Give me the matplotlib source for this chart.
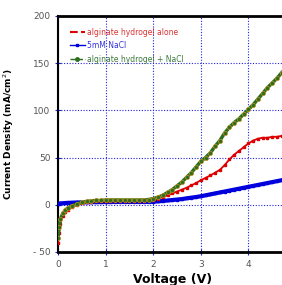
import matplotlib.pyplot as plt
from matplotlib.lines import Line2D

# voltage (V)
volts = [0, 0.02, 0.05, 0.1, 0.15, 0.2, 0.3, 0.4, 0.5, 0.6, 0.7, 0.8, 0.9, 1.0,
         1.1, 1.2, 1.3, 1.4, 1.5, 1.6, 1.7, 1.8, 1.9, 2.0, 2.1, 2.2, 2.3, 2.4,
         2.5, 2.6, 2.7, 2.8, 2.9, 3.0, 3.1, 3.2, 3.3, 3.4, 3.5, 3.6, 3.7, 3.8,
         3.9, 4.0, 4.1, 4.2, 4.3, 4.4, 4.5, 4.6, 4.7, 4.8]

# current density (mA/cm2)
gel_alone = [-40, -30, -20, -12, -8, -5.5, -2.5, 0, 1.5, 2.5, 3, 3.5, 3.5, 3.5,
             3.5, 3.5, 4, 4, 4, 4, 4, 4, 4.5, 5.5, 6.5, 8, 10, 12,
             14, 16, 18, 20.5, 23, 26, 28.5, 31, 34, 37, 42, 48, 53, 57,
             61, 65, 68, 70, 71, 71, 72, 72, 73, 76]
nacl = [1, 1.2, 1.4, 1.6, 1.8, 2, 2.2, 2.4, 2.5, 2.6, 2.7, 2.8, 2.8, 2.9,
        2.9, 3, 3, 3, 3, 3, 3, 3, 3, 3.2, 3.6, 4, 4.5, 5,
        5.5, 6, 6.8, 7.5, 8.2, 9, 10, 11, 12, 13, 14, 15, 16, 17,
        18, 19, 20, 21, 22, 23, 24, 25, 26, 27]
gel_nacl = [-35, -24, -15, -9, -6, -3.5, -1, 1, 2.5, 3.5, 4, 4.5, 4.5, 5,
            5, 5, 5, 5, 5, 5, 5, 5, 5.5, 6.5, 8, 10, 13, 16,
            20, 24, 29, 34, 40, 46, 50, 55, 62, 68, 76, 82, 87, 91,
            96, 101, 106, 112, 118, 124, 129, 134, 140, 145]

fig = plt.figure(figsize=(2.82, 2.85), dpi=100)
ax = fig.add_axes([0.206, 0.116, 0.81, 0.828])

ax.plot(volts, nacl, color='#0000dd', lw=3, marker='s', ms=2, zorder=3)
ax.plot(volts, gel_alone, color='#dd0000', lw=1.3, marker='s', ms=1.5, zorder=4)
ax.plot(volts, gel_nacl, color='#2a6e1e', lw=2.5, marker='o', ms=3,
        mec='#c89020', mew=0.5, zorder=5)

ax.set_xlim(0, 4.8)
ax.set_ylim(-50, 200)
ax.set_xticks([0, 1, 2, 3, 4])
ax.set_yticks([-50, 0, 50, 100, 150, 200])
ax.set_yticklabels(['- 50', '0', '50', '100', '150', '200'])
ax.grid(True, color='#2222dd', ls=(0, (1, 1.5)), lw=0.8)
ax.tick_params(colors='#2222dd', labelcolor='#555555', labelsize=6.5, direction='inout', length=4)

for s in ['left', 'bottom', 'top']:
    ax.spines[s].set_color('black')
ax.spines['left'].set_linewidth(1.5)
ax.spines['bottom'].set_linewidth(2)
ax.spines['top'].set_linewidth(2)
ax.spines['right'].set_visible(False)

ax.set_xlabel('Voltage (V)', fontsize=9, fontweight='bold', labelpad=3)
ax.set_ylabel('Current Density (mA/cm$^2$)', fontsize=6.5, fontweight='bold', labelpad=12)

# legend handles drawn like the original figure
h_red = Line2D([], [], color='#dd0000', lw=1.5, ls='--')
h_blue = Line2D([], [], color='#0000dd', lw=1, marker='s', ms=2)
h_green = Line2D([], [], color='#2a6e1e', lw=1, ls='--', marker='o', ms=2.5)
leg = ax.legend([h_red, h_blue, h_green],
                ['alginate hydrogel alone', '5mM NaCl', 'alginate hydrogel + NaCl'],
                loc='upper left', bbox_to_anchor=(0.02, 0.98), frameon=False,
                fontsize=5.5, handlelength=2, handletextpad=0.3, labelspacing=0.6)
for t, c in zip(leg.get_texts(), ['#dd3333', '#3333dd', '#3a7a3a']):
    t.set_color(c)

fig.savefig('out.png', dpi=100)
